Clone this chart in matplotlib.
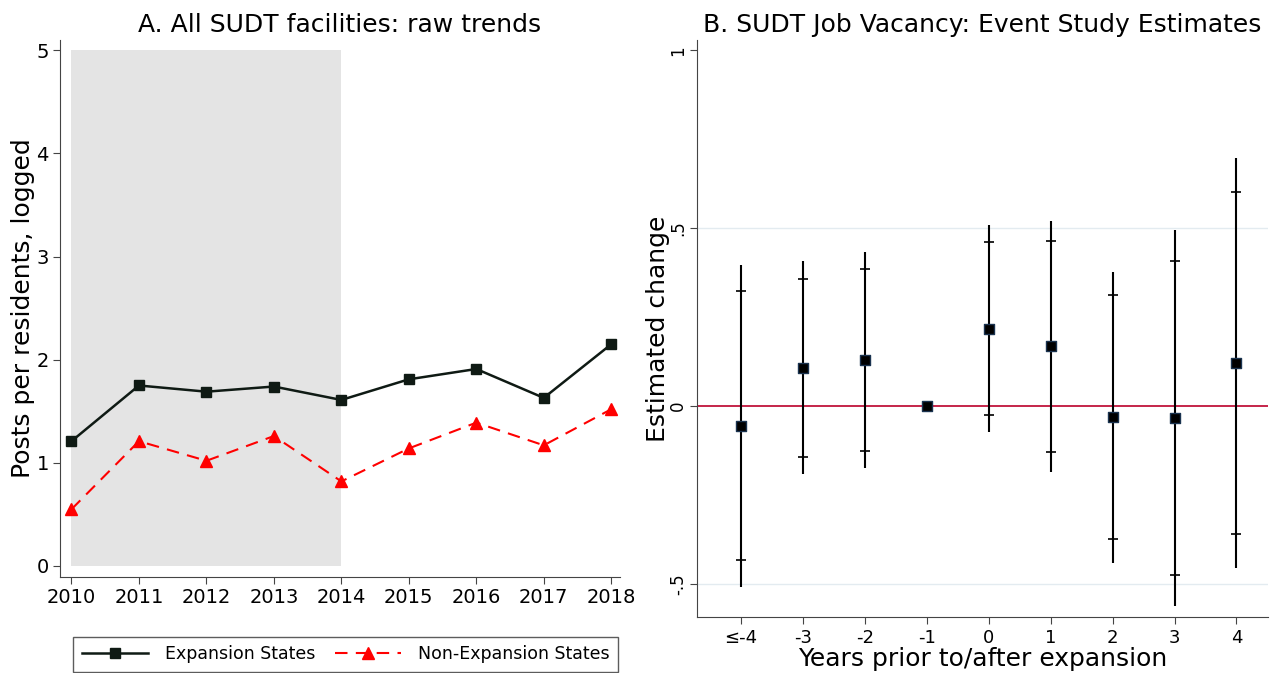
import matplotlib
matplotlib.use("Agg")
import matplotlib.pyplot as plt
import numpy as np

plt.rcParams['font.family'] = ['DejaVu Sans']

# Panel A data
years = [2010, 2011, 2012, 2013, 2014, 2015, 2016, 2017, 2018]
expansion = [1.21, 1.75, 1.69, 1.74, 1.61, 1.81, 1.91, 1.63, 2.15]
non_expansion = [0.55, 1.21, 1.02, 1.26, 0.82, 1.14, 1.39, 1.17, 1.52]

# Panel B data
event_labels = ['≤-4', '-3', '-2', '-1', '0', '1', '2', '3', '4']
coef = [-0.055, 0.108, 0.129, 0.0, 0.217, 0.168, -0.031, -0.035, 0.122]
ci_outer_lo = [-0.508, -0.191, -0.175, np.nan, -0.073, -0.185, -0.441, -0.563, -0.456]
ci_outer_hi = [0.397, 0.408, 0.434, np.nan, 0.508, 0.521, 0.378, 0.495, 0.697]
ci_inner_lo = [-0.433, -0.142, -0.126, np.nan, -0.026, -0.128, -0.374, -0.475, -0.359]
ci_inner_hi = [0.324, 0.358, 0.385, np.nan, 0.462, 0.464, 0.312, 0.408, 0.603]

fig = plt.figure(figsize=(12.85, 6.73), dpi=100)

# ---- Panel A ----
ax1 = fig.add_axes([0.0467, 0.1426, 0.4358, 0.798])
ax1.fill_between([2010, 2014], 0, 5, color='#e4e4e4', zorder=0, linewidth=0)
ax1.plot(years, expansion, color='#0f1a14', marker='s', markersize=7.5,
         linewidth=1.8, label='Expansion States')
ax1.plot(years, non_expansion, color='#ff0000', marker='^', markersize=8.5,
         linewidth=1.5, linestyle=(0, (6, 4)), label='Non-Expansion States')
ax1.set_xlim(2009.83, 2018.13)
ax1.set_ylim(-0.107, 5.1)
ax1.set_xticks(years)
ax1.set_yticks([0, 1, 2, 3, 4, 5])
ax1.tick_params(labelsize=14, length=5, color='#444444', pad=3)
ax1.set_ylabel('Posts per residents, logged', fontsize=18)
ax1.yaxis.set_label_coords(-0.045, 0.5)
ax1.set_title('A. All SUDT facilities: raw trends', fontsize=18, pad=6)
for s in ['top', 'right']:
    ax1.spines[s].set_visible(False)
for s in ['left', 'bottom']:
    ax1.spines[s].set_color('#444444')
leg = ax1.legend(loc='upper center', bbox_to_anchor=(0.51, -0.111), ncol=2,
                 fontsize=12.5, frameon=True, fancybox=False, edgecolor='#333333',
                 handlelength=3.8, handletextpad=1.0, columnspacing=1.1,
                 borderpad=0.5, borderaxespad=0)
leg.get_frame().set_linewidth(1.0)

# ---- Panel B ----
ax2 = fig.add_axes([0.5424, 0.0832, 0.4444, 0.8574])
x = np.arange(len(event_labels))
ax2.axhline(0.5, color='#e3ebf0', linewidth=1, zorder=0)
ax2.axhline(-0.5, color='#e3ebf0', linewidth=1, zorder=0)
ax2.axhline(0, color='#c0143c', linewidth=1.3, zorder=1)
ax2.vlines(x, ci_outer_lo, ci_outer_hi, color='black', linewidth=1.5, zorder=2)
ax2.scatter(x, ci_inner_lo, marker='_', s=60, color='black', linewidths=1.2, zorder=2)
ax2.scatter(x, ci_inner_hi, marker='_', s=60, color='black', linewidths=1.2, zorder=2)
ax2.scatter(x, coef, marker='s', s=55, color='black', edgecolors='#1a3350',
            linewidths=1, zorder=3)
ax2.set_xlim(-0.71, 8.51)
ax2.set_ylim(-0.593, 1.029)
ax2.set_xticks(x)
ax2.set_xticklabels(event_labels)
ax2.set_yticks([-0.5, 0, 0.5, 1])
ax2.set_yticklabels(['-.5', '0', '.5', '1'], rotation=90, va='center')
ax2.tick_params(axis='x', labelsize=13, length=5, color='#444444')
ax2.tick_params(axis='y', labelsize=12, length=5, color='#444444', pad=2)
ax2.set_xlabel('Years prior to/after expansion', fontsize=18, labelpad=0)
ax2.set_ylabel('Estimated change', fontsize=18)
ax2.yaxis.set_label_coords(-0.047, 0.5)
ax2.set_title('B. SUDT Job Vacancy: Event Study Estimates', fontsize=18, pad=6)
for s in ['top', 'right']:
    ax2.spines[s].set_visible(False)
for s in ['left', 'bottom']:
    ax2.spines[s].set_color('#444444')

fig.savefig('out.png', dpi=100)
